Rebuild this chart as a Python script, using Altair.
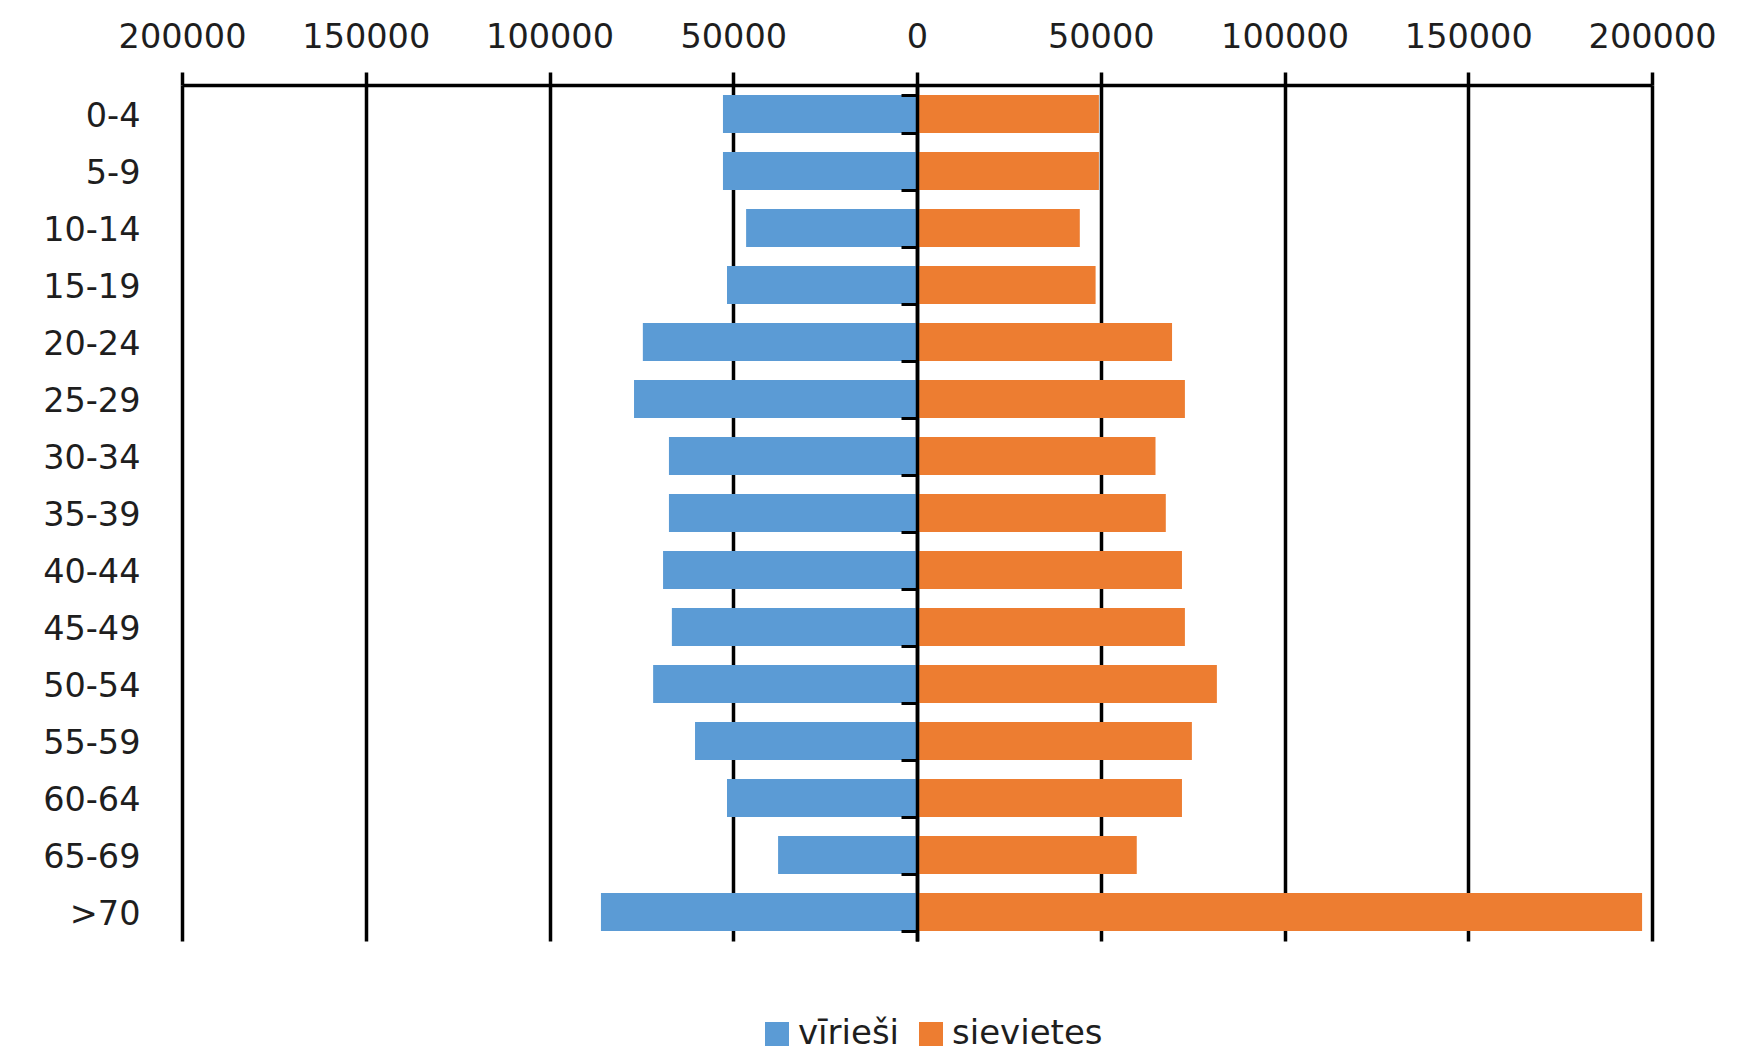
import altair as alt
import pandas as pd

age_groups = ["0-4", "5-9", "10-14", "15-19", "20-24", "25-29", "30-34", "35-39",
              "40-44", "45-49", "50-54", "55-59", "60-64", "65-69", ">70"]
men = [52800, 52800, 46500, 51700, 74600, 77000, 67500, 67500,
       69100, 66700, 71800, 60400, 51700, 37800, 86000]
women = [49500, 49500, 44300, 48600, 69400, 72900, 64900, 67700,
         72100, 72900, 81600, 74800, 72100, 59800, 197300]
series_names = ["vīrieši", "sievietes"]
series_colors = ["#5B9BD5", "#ED7D31"]
x_ticks = [-200000, -150000, -100000, -50000, 0, 50000, 100000, 150000, 200000]

rows = []
for a, m, w in zip(age_groups, men, women):
    rows.append({"age": a, "sex": series_names[0], "value": -m})
    rows.append({"age": a, "sex": series_names[1], "value": w})
df = pd.DataFrame(rows)

W, H = 1470, 856
FONT = "DejaVu Sans"
TXT = "#1e1e1e"

x_enc = alt.X(
    "value:Q",
    stack=None,
    scale=alt.Scale(domain=[-200000, 200000], nice=False, zero=False),
    axis=alt.Axis(
        orient="top", values=x_ticks, title=None,
        labelExpr="format(abs(datum.value), 'd')",
        labelFlush=False, labelOverlap=False, labelBound=False,
        grid=True, gridColor="black", gridWidth=3.5,
        domain=True, domainColor="black", domainWidth=3.5,
        ticks=True, tickColor="black", tickWidth=3.5, tickSize=13,
        labelFont=FONT, labelFontSize=33.5, labelColor=TXT, labelPadding=18,
    ),
)

y_scale = alt.Scale(domain=age_groups, paddingInner=0.333, paddingOuter=0.175)

bars = alt.Chart(df).mark_bar().encode(
    x=x_enc,
    y=alt.Y(
        "age:N", sort=age_groups, scale=y_scale,
        axis=alt.Axis(
            title=None, orient="left", domain=False, ticks=False,
            labelPadding=42, labelOffset=3, labelFont=FONT, labelFontSize=33.5,
            labelColor=TXT,
        ),
    ),
    color=alt.Color(
        "sex:N",
        scale=alt.Scale(domain=series_names, range=series_colors),
        legend=alt.Legend(
            title=None, orient="none", legendX=578, legendY=932,
            direction="horizontal", symbolType="square", symbolSize=576,
            symbolStrokeWidth=0, labelFont=FONT, labelFontSize=34,
            labelColor=TXT, labelOffset=4, columnPadding=14, padding=0,
        ),
    ),
)

zero_axis = alt.Chart(df).mark_bar(opacity=0).encode(
    x=x_enc,
    y=alt.Y(
        "age:N", sort=age_groups, scale=y_scale,
        axis=alt.Axis(
            title=None, orient="left", offset=-W / 2, labels=False,
            domain=True, domainColor="black", domainWidth=3.5,
            ticks=True, tickBand="extent", tickSize=16, tickColor="black",
            tickWidth=3, zindex=2,
        ),
    ),
)

chart = (
    alt.layer(bars, zero_axis)
    .resolve_axis(y="independent")
    .properties(
        width=W, height=H,
        autosize=alt.AutoSizeParams(type="none"),
        padding={"left": 174, "top": 77, "right": 70, "bottom": 110},
        background="white",
    )
    .configure_view(stroke=None)
)

chart.save("out.html", embed_options={"renderer": "svg", "actions": False})
